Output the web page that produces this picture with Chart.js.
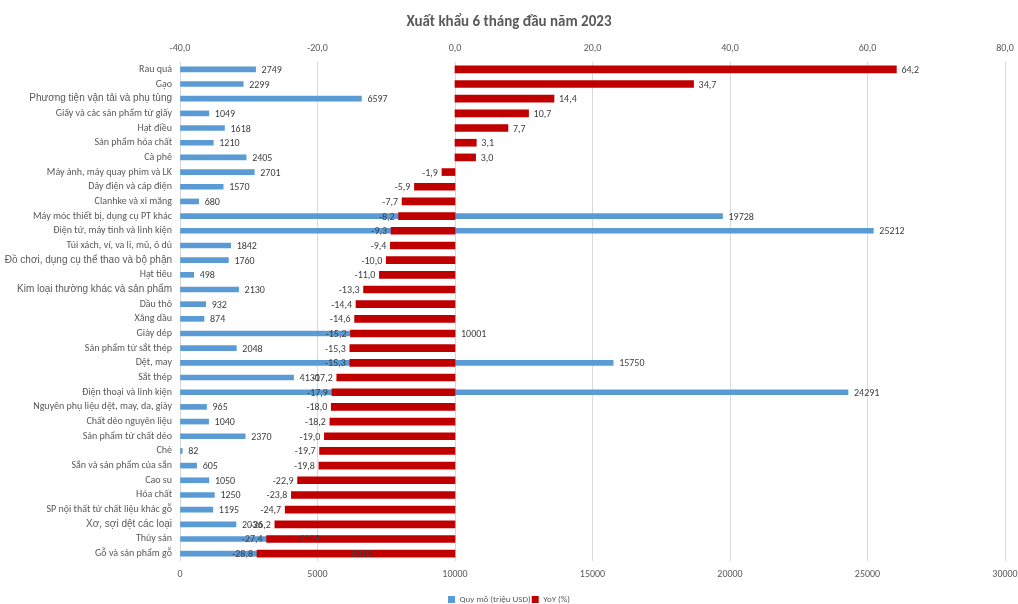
<!DOCTYPE html>
<html>
<head>
<meta charset="utf-8">
<script src="https://cdn.jsdelivr.net/npm/chart.js@4"></script>
<style>
  body { margin: 0; background: #fff; }
  #wrap { width: 1018px; height: 604px; }
</style>
</head>
<body>
<div id="wrap"><canvas id="exportChart"></canvas></div>
<script>
const categories = [
  'Rau quả', 'Gạo', 'Phương tiện vận tải và phụ tùng', 'Giấy và các sản phẩm từ giấy',
  'Hạt điều', 'Sản phẩm hóa chất', 'Cà phê', 'Máy ảnh, máy quay phim và LK',
  'Dây điện và cáp điện', 'Clanhke và xi măng', 'Máy móc thiết bị, dụng cụ PT khác',
  'Điện tử, máy tính và linh kiện', 'Túi xách, ví, va li, mũ, ô dù',
  'Đồ chơi, dụng cụ thể thao và bộ phận', 'Hạt tiêu', 'Kim loại thường khác và sản phẩm',
  'Dầu thô', 'Xăng dầu', 'Giày dép', 'Sản phẩm từ sắt thép', 'Dệt, may', 'Sắt thép',
  'Điện thoại và linh kiện', 'Nguyên phụ liệu dệt, may, da, giày', 'Chất dẻo nguyên liệu',
  'Sản phẩm từ chất dẻo', 'Chè', 'Sắn và sản phẩm của sắn', 'Cao su', 'Hóa chất',
  'SP nội thất từ chất liệu khác gỗ', 'Xơ, sợi dệt các loại', 'Thủy sản', 'Gỗ và sản phẩm gỗ'
];
const quyMo = [
  2749, 2299, 6597, 1049, 1618, 1210, 2405, 2701, 1570, 680, 19728, 25212, 1842, 1760,
  498, 2130, 932, 874, 10001, 2048, 15750, 4130, 24291, 965, 1040, 2370, 82, 605,
  1050, 1250, 1195, 2036, 4129, 6010
];
const yoy = [
  64.2, 34.7, 14.4, 10.7, 7.7, 3.1, 3.0, -1.9, -5.9, -7.7, -8.2, -9.3, -9.4, -10.0,
  -11.0, -13.3, -14.4, -14.6, -15.2, -15.3, -15.3, -17.2, -17.9, -18.0, -18.2, -19.0,
  -19.7, -19.8, -22.9, -23.8, -24.7, -26.2, -27.4, -28.8
];
// labels that use the bigger font in the original
const bigLabels = [2, 13, 15, 31];

const FONT = 'Carlito, "Liberation Sans Narrow", Lato, sans-serif';
const BLUE = '#5b9bd5';
const RED = '#c00000';
const TEXT = '#595959';

function fmt(v) {
  return v.toFixed(1).replace('.', ',');
}

// keep the plot area reaching close to the right edge like the original
function trimPadding(s) {
  s.paddingLeft = 0;
  s.paddingRight = 13;
}

const labelPlugin = {
  id: 'barLabels',
  afterDatasetsDraw(chart) {
    const ctx = chart.ctx;
    ctx.save();
    ctx.font = '10px ' + FONT;
    ctx.fillStyle = '#404040';
    ctx.textBaseline = 'middle';
    chart.data.datasets.forEach((ds, d) => {
      chart.getDatasetMeta(d).data.forEach((bar, i) => {
        const v = ds.data[i];
        if (d === 0) {
          ctx.textAlign = 'left';
          ctx.fillText(String(v), bar.x + 6, bar.y + 1);
        } else if (v >= 0) {
          ctx.textAlign = 'left';
          ctx.fillText(fmt(v), bar.x + 5, bar.y + 1);
        } else {
          ctx.textAlign = 'right';
          ctx.fillText(fmt(v), bar.x - 4, bar.y + 1);
        }
      });
    });
    ctx.restore();
  }
};

new Chart(document.getElementById('exportChart'), {
  type: 'bar',
  data: {
    labels: categories,
    datasets: [
      {
        label: 'Quy mô (triệu USD)',
        data: quyMo,
        backgroundColor: BLUE,
        xAxisID: 'x',
        barThickness: 5,
        order: 1
      },
      {
        label: 'YoY (%)',
        data: yoy,
        backgroundColor: RED,
        xAxisID: 'x2',
        barThickness: 7,
        order: 0
      }
    ]
  },
  options: {
    indexAxis: 'y',
    responsive: true,
    maintainAspectRatio: false,
    animation: false,
    grouped: false,
    layout: { padding: { left: 0, right: 0, top: 0, bottom: -10 } },
    scales: {
      y: {
        grid: { display: false, drawTicks: false },
        border: { display: false },
        afterFit: s => { s.width = 180; },
        ticks: {
          autoSkip: false,
          color: TEXT,
          padding: 8,
          font: c => bigLabels.includes(c.index)
            ? { family: '"Liberation Sans", Arial, sans-serif', size: 10 }
            : { family: FONT, size: 10 }
        }
      },
      x: {
        position: 'bottom',
        min: 0,
        max: 30000,
        grid: { color: '#d9d9d9', drawTicks: false },
        border: { display: false },
        afterFit: s => { s.height += 7; trimPadding(s); },
        ticks: {
          stepSize: 5000,
          color: TEXT,
          padding: 7,
          font: { family: FONT, size: 10 },
          callback: v => String(v)
        }
      },
      x2: {
        position: 'top',
        min: -40,
        max: 80,
        grid: { display: false, drawTicks: false },
        border: { display: false },
        afterFit: trimPadding,
        ticks: {
          stepSize: 20,
          color: TEXT,
          padding: 8,
          font: { family: FONT, size: 10 },
          callback: v => fmt(v)
        }
      }
    },
    plugins: {
      title: {
        display: true,
        text: 'Xuất khẩu 6 tháng đầu năm 2023',
        color: TEXT,
        font: { family: FONT, size: 15, weight: 'bold' },
        padding: { top: 13, bottom: 3 }
      },
      legend: {
        position: 'bottom',
        labels: {
          color: TEXT,
          boxWidth: 7,
          boxHeight: 7,
          padding: 1,
          font: { family: FONT, size: 9 },
          sort: (a, b) => a.datasetIndex - b.datasetIndex
        }
      },
      tooltip: { enabled: false }
    }
  },
  plugins: [labelPlugin]
});
</script>
</body>
</html>
